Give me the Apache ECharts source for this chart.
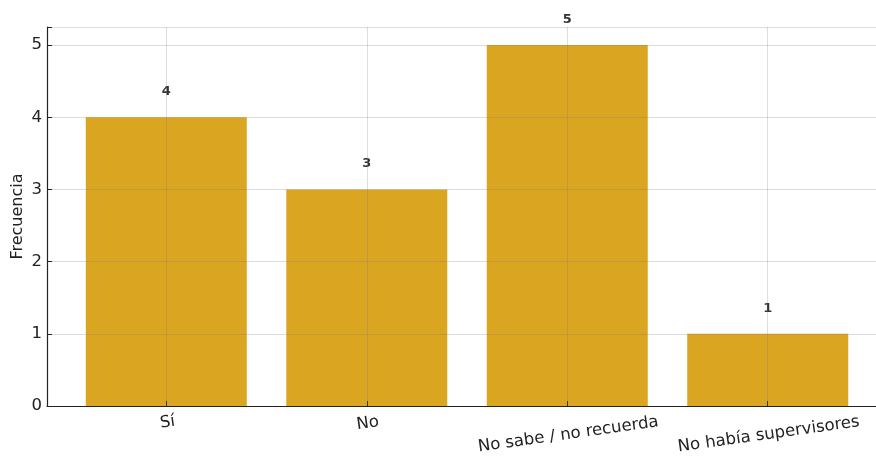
<!DOCTYPE html>
<html><head><meta charset="utf-8">
<script src="https://cdn.jsdelivr.net/npm/echarts@6/dist/echarts.min.js"></script>
<style>html,body{margin:0;padding:0;background:#fff}#c{width:876px;height:459px}</style>
</head><body><div id="c"></div>
<script>
const categories = ['Sí', 'No', 'No sabe / no recuerda', 'No había supervisores'];
const values = [4, 3, 5, 1];
const yTicks = [0, 1, 2, 3, 4, 5];
const catIdx = categories.map((c, i) => i);

const ROT = 8;
const FS = 16.5;
const cv = document.createElement('canvas').getContext('2d');
cv.font = FS + 'px "DejaVu Sans"';
const rich = {};
const t = Math.tan(ROT * Math.PI / 180);
categories.forEach((c, i) => {
  const w = cv.measureText(c).width;
  const p = Math.round(w / 2 * t);
  rich['p' + i] = { padding: [p, Math.round(2 * p * t), 0, 0],
                    fontFamily: 'DejaVu Sans', fontSize: FS, color: '#222' };
});

const gridCol = 'rgba(120,120,120,0.25)';
const chart = echarts.init(document.getElementById('c'));
chart.setOption({
  animation: false,
  backgroundColor: '#fff',
  grid: { left: 47, right: 0, top: 27, bottom: 53, containLabel: false, outerBoundsMode: 'none' },
  xAxis: {
    type: 'value', min: -0.595, max: 3.54, z: 5,
    axisLine: { onZero: false, lineStyle: { color: '#222', width: 1.2 } },
    axisTick: { show: true, inside: true, customValues: catIdx, length: 5, lineStyle: { color: '#222' } },
    axisLabel: {
      customValues: catIdx,
      formatter: v => { const i = Math.round(v); return categories[i] ? '{p' + i + '|' + categories[i] + '}' : ''; },
      rich: rich,
      rotate: ROT, align: 'center', verticalAlign: 'top',
      fontFamily: 'DejaVu Sans', fontSize: FS, color: '#222', margin: 7
    },
    splitLine: { show: false }
  },
  yAxis: {
    type: 'value', min: 0, max: 5.25, interval: 1, z: 5,
    name: 'Frecuencia', nameLocation: 'middle', nameGap: 21, nameRotate: 90, nameMoveOverlap: false,
    nameTextStyle: { fontFamily: 'DejaVu Sans', fontSize: 16, color: '#222' },
    axisLine: { show: true, onZero: false, lineStyle: { color: '#222', width: 1.2 } },
    axisTick: { show: true, inside: true, length: 5, lineStyle: { color: '#222' } },
    axisLabel: {
      formatter: v => (yTicks.includes(v) ? String(v) : ''),
      fontFamily: 'DejaVu Sans', fontSize: FS, color: '#222', margin: 5
    },
    splitLine: { show: true, lineStyle: { color: gridCol, type: 'solid', width: 1 } }
  },
  series: [{
    type: 'bar',
    data: values.map((v, i) => [i, v]),
    barWidth: 161,
    z: 2,
    itemStyle: { color: '#DAA520' },
    label: {
      show: true, position: 'top', distance: 19,
      fontFamily: 'DejaVu Sans', fontWeight: 'bold', fontSize: 13, color: '#333',
      formatter: p => String(p.value[1])
    },
    markLine: {
      silent: true, symbol: 'none', animation: false, z: 6,
      label: { show: false },
      lineStyle: { color: gridCol, type: 'solid', width: 1 },
      data: catIdx.map(i => [{ coord: [i, 0] }, { coord: [i, 5.25] }])
    }
  }]
});
</script></body></html>
